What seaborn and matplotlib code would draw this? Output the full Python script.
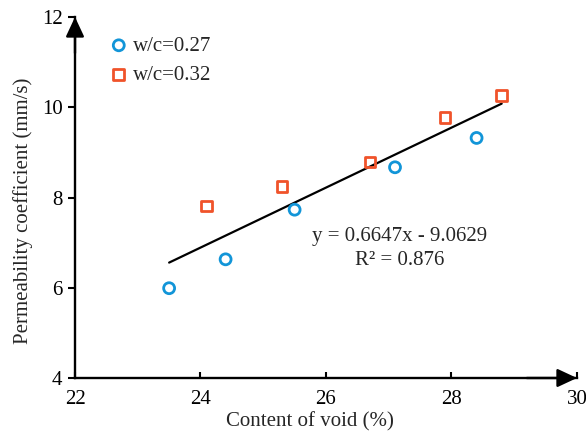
import numpy as np
import matplotlib
matplotlib.use("Agg")
import matplotlib.pyplot as plt
import seaborn as sns

# data
void_027 = [23.5, 24.4, 25.5, 27.1, 28.4]
perm_027 = [5.99, 6.63, 7.73, 8.67, 9.32]
void_032 = [24.1, 25.3, 26.7, 27.9, 28.8]
perm_032 = [7.81, 8.24, 8.79, 9.77, 10.26]
labels = ["w/c=0.27", "w/c=0.32"]

# trendline as printed on the chart
slope = 0.6647
intercept = -9.0629
r2 = 0.876

blue = "#1295D8"
orange = "#F0532A"

sns.set_theme(style="ticks")
plt.rcParams["font.family"] = ["Liberation Serif", "DejaVu Serif"]
plt.rcParams["font.size"] = 15

fig = plt.figure(figsize=(5.86, 4.42), dpi=100)
ax = fig.add_axes([0.128, 0.1448, 0.8566, 0.8167])

sns.scatterplot(x=void_027, y=perm_027, marker="o", s=62, color=blue,
                linewidth=2, ax=ax, label=labels[0], zorder=3)
sns.scatterplot(x=void_032, y=perm_032, marker="s", s=58, color=orange,
                linewidth=2, ax=ax, label=labels[1], zorder=3)
# hollow markers
for coll, c in zip(ax.collections, [blue, orange]):
    coll.set_facecolor("none")
    coll.set_edgecolor(c)

# linear trendline over the range of all points
all_x = np.array(void_027 + void_032)
xs = np.array([all_x.min(), all_x.max()])
sns.lineplot(x=xs, y=slope * xs + intercept, color="black", linewidth=1.6, ax=ax)

ax.text(27.18, 6.86, f"y = {slope}x - {abs(intercept)}\nR² = {r2}",
        ha="center", va="center", fontsize=15, linespacing=1.35)

ax.set_xlim(22, 30)
ax.set_ylim(4, 12)
ax.set_xticks(np.arange(22, 31, 2))
ax.set_yticks(np.arange(4, 13, 2))
ax.set_xlabel("Content of void (%)", fontsize=15)
ax.set_ylabel("Permeability coefficient (mm/s)", fontsize=15)
ax.xaxis.set_label_coords(0.468, -0.094)
ax.yaxis.set_label_coords(-0.084, 0.463)

for side in ["top", "right"]:
    ax.spines[side].set_visible(False)
for side in ["left", "bottom"]:
    ax.spines[side].set_linewidth(1.7)
    ax.spines[side].set_color("black")
ax.tick_params(axis="x", direction="in", length=4, width=1.5, pad=9,
               labelsize=15, colors="black")
ax.tick_params(axis="y", direction="out", length=5, width=1.5, pad=4,
               labelsize=15, colors="black")

# axis arrows
arrow = dict(arrowstyle="-|>,head_length=0.6,head_width=0.28",
             color="black", lw=1.7, mutation_scale=20, shrinkA=0, shrinkB=0)
ax.annotate("", xy=(1, 0), xytext=(0.9, 0), xycoords="axes fraction",
            arrowprops=arrow, annotation_clip=False)
ax.annotate("", xy=(0, 1), xytext=(0, 0.9), xycoords="axes fraction",
            arrowprops=arrow, annotation_clip=False)

ax.legend(loc="upper left", bbox_to_anchor=(0.054, 0.97), borderaxespad=0,
          frameon=False, handlelength=0.8, handletextpad=0.3,
          labelspacing=0.45, fontsize=15)

fig.savefig("out.png", dpi=100)
